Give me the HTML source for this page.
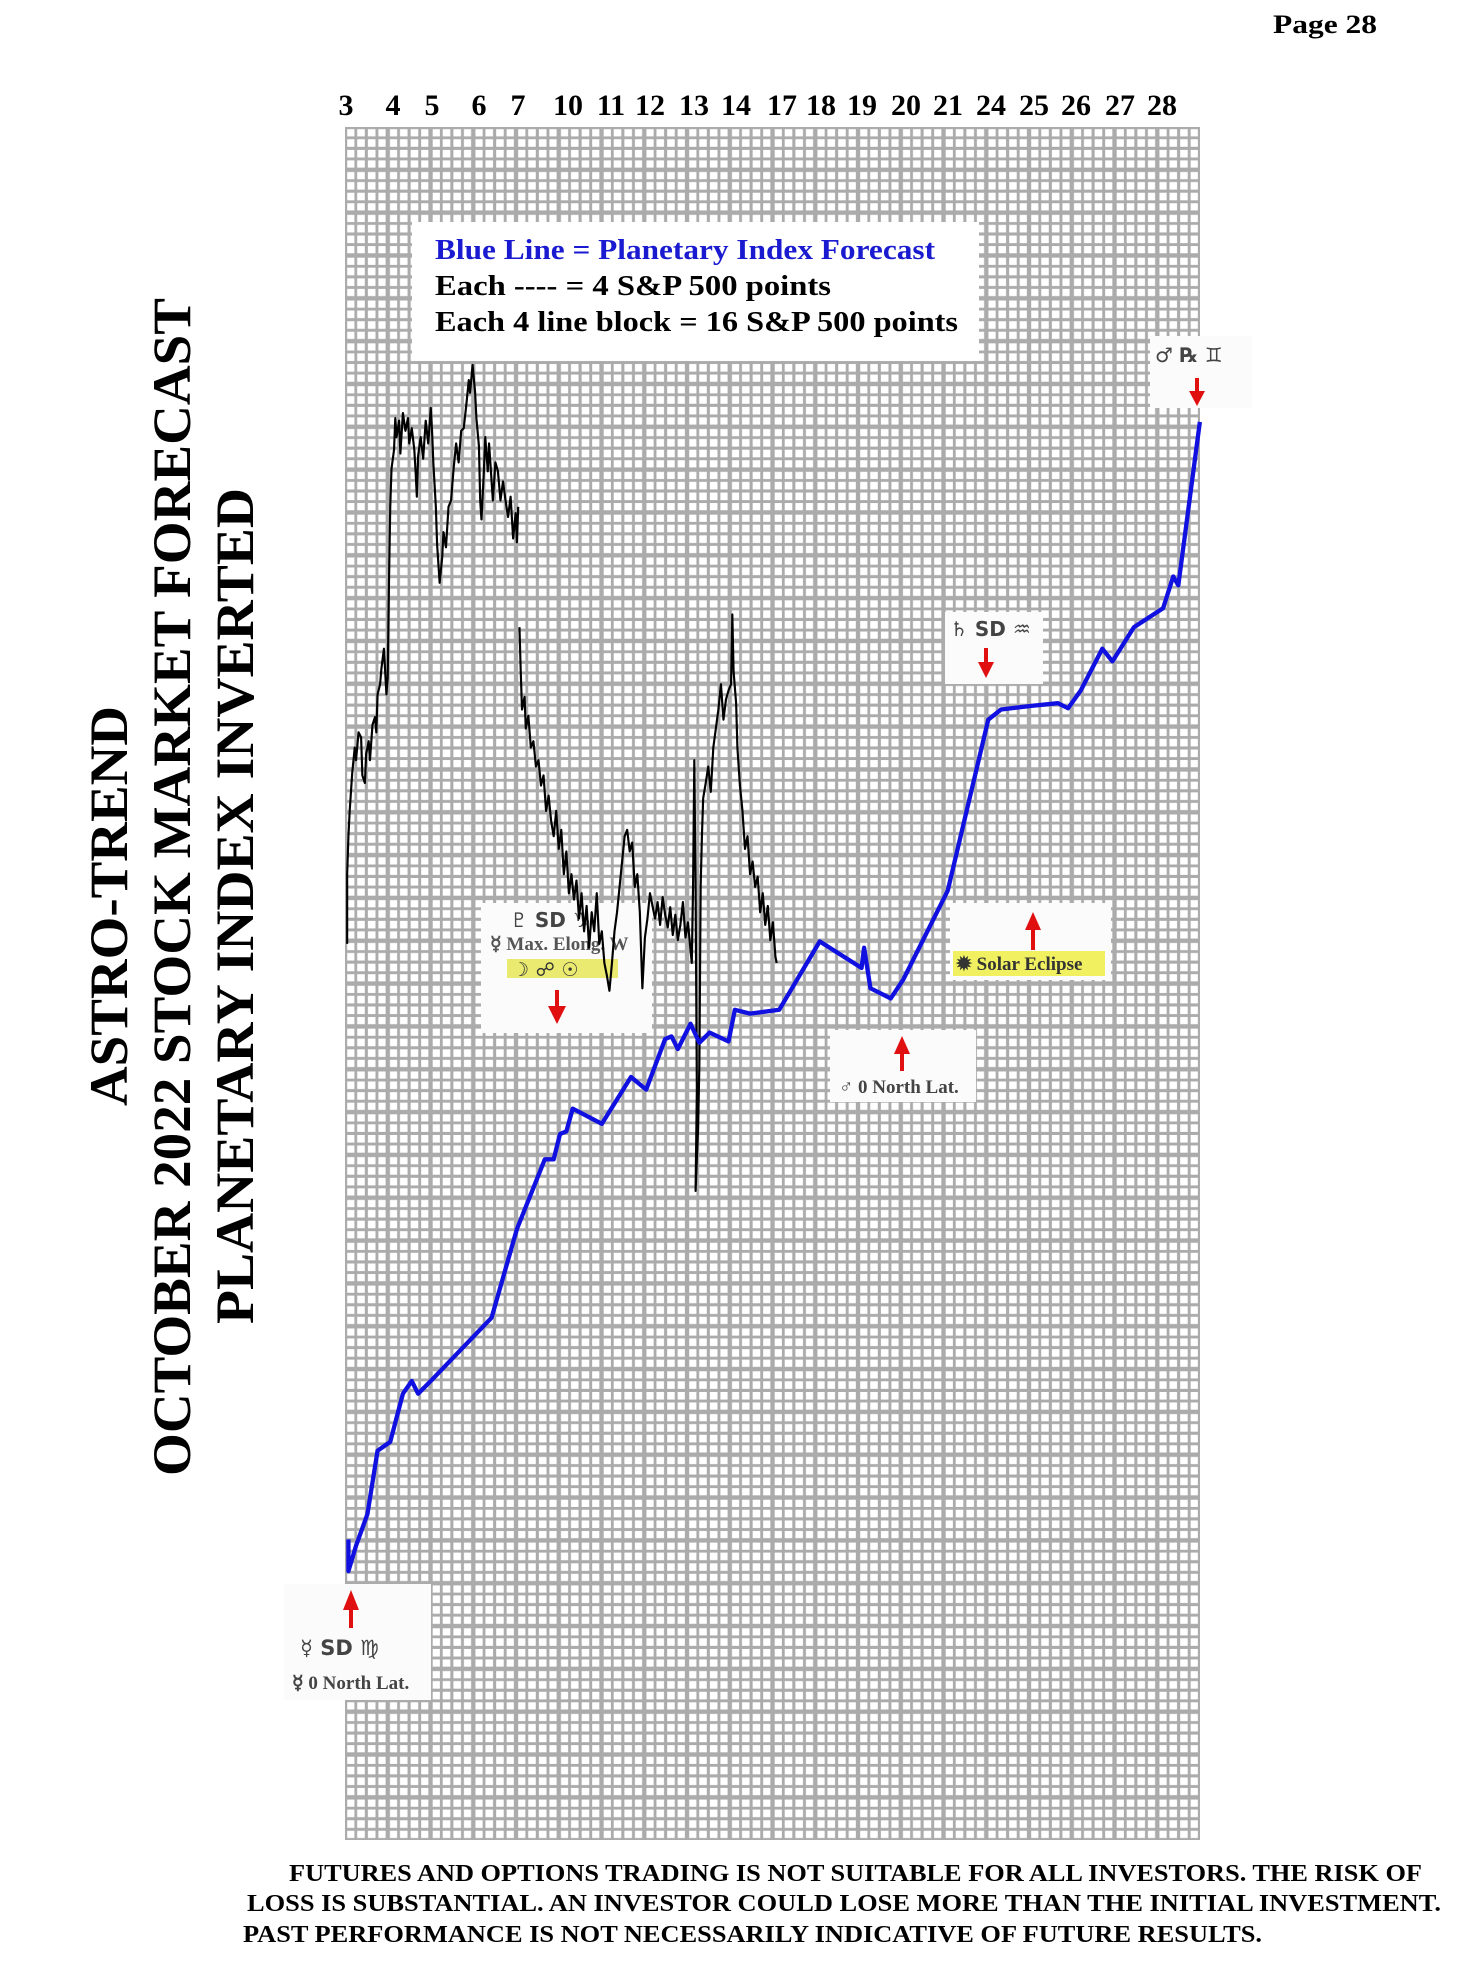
<!DOCTYPE html>
<html><head><meta charset="utf-8">
<style>
html,body{margin:0;padding:0;background:#fff;}
svg{display:block;}
.t{font-family:"Liberation Serif",serif;font-weight:bold;}
.s{font-family:"DejaVu Sans",sans-serif;font-weight:bold;}
</style></head>
<body>
<svg width="1470" height="1978" viewBox="0 0 1470 1978" xmlns="http://www.w3.org/2000/svg">
<defs>
<pattern id="g" x="345" y="127" width="42.75" height="42.83" patternUnits="userSpaceOnUse">
<rect width="42.75" height="42.83" fill="#ababab"/>
<g fill="#fff">
<rect x="2.2" y="2.2" width="7.2" height="7.2"/><rect x="12.2" y="2.2" width="7.6" height="7.2"/><rect x="22.9" y="2.2" width="7.6" height="7.2"/><rect x="33.4" y="2.2" width="7.2" height="7.2"/>
<rect x="2.2" y="12.2" width="7.2" height="7.6"/><rect x="12.2" y="12.2" width="7.6" height="7.6"/><rect x="22.9" y="12.2" width="7.6" height="7.6"/><rect x="33.4" y="12.2" width="7.2" height="7.6"/>
<rect x="2.2" y="22.9" width="7.2" height="7.6"/><rect x="12.2" y="22.9" width="7.6" height="7.6"/><rect x="22.9" y="22.9" width="7.6" height="7.6"/><rect x="33.4" y="22.9" width="7.2" height="7.6"/>
<rect x="2.2" y="33.4" width="7.2" height="7.2"/><rect x="12.2" y="33.4" width="7.6" height="7.2"/><rect x="22.9" y="33.4" width="7.6" height="7.2"/><rect x="33.4" y="33.4" width="7.2" height="7.2"/>
</g>
</pattern>
</defs>

<text class="t" x="1273" y="33" font-size="26" textLength="104" lengthAdjust="spacingAndGlyphs">Page  28</text>

<g class="t" font-size="30" text-anchor="middle">
<text x="346" y="115">3</text><text x="393" y="115">4</text><text x="432" y="115">5</text><text x="479" y="115">6</text><text x="518" y="115">7</text>
<text x="568" y="115">10</text><text x="611" y="115">11</text><text x="650" y="115">12</text><text x="694" y="115">13</text><text x="736" y="115">14</text>
<text x="782" y="115">17</text><text x="821" y="115">18</text><text x="862" y="115">19</text><text x="906" y="115">20</text><text x="948" y="115">21</text>
<text x="991" y="115">24</text><text x="1034" y="115">25</text><text x="1076" y="115">26</text><text x="1120" y="115">27</text><text x="1162" y="115">28</text>
</g>

<rect x="345" y="127" width="855" height="1713" fill="url(#g)"/>

<g class="t" font-size="54">
<text transform="translate(127,906) rotate(-90)" text-anchor="middle" textLength="400" lengthAdjust="spacingAndGlyphs">ASTRO-TREND</text>
<text transform="translate(190,887) rotate(-90)" text-anchor="middle" textLength="1178" lengthAdjust="spacingAndGlyphs">OCTOBER 2022 STOCK MARKET FORECAST</text>
<text transform="translate(253,906) rotate(-90)" text-anchor="middle" textLength="836" lengthAdjust="spacingAndGlyphs">PLANETARY INDEX INVERTED</text>
</g>

<rect x="412" y="222" width="567" height="139" fill="#fff"/>
<g class="t" font-size="28">
<text x="435" y="259" fill="#1a1ad0" textLength="500" lengthAdjust="spacingAndGlyphs">Blue Line = Planetary Index Forecast</text>
<text x="435" y="295" textLength="396" lengthAdjust="spacingAndGlyphs">Each ---- =   4 S&amp;P 500 points</text>
<text x="435" y="331" textLength="523" lengthAdjust="spacingAndGlyphs">Each 4 line block =  16  S&amp;P 500 points</text>
</g>

<rect x="1150" y="336" width="102" height="72" fill="#fbfbfb"/>
<text class="s" x="1155" y="362" font-size="20" fill="#444">♂ ℞ ♊</text>
<path d="M1197 378 V393" stroke="#e01010" stroke-width="4"/><path d="M1189 391 L1205 391 L1197 406 Z" fill="#e01010"/>

<rect x="945" y="612" width="98" height="72" fill="#fbfbfb"/>
<text class="s" x="950" y="636" font-size="20" fill="#444">♄ SD ♒</text>
<path d="M986 648 V664" stroke="#e01010" stroke-width="4"/><path d="M978 662 L994 662 L986 678 Z" fill="#e01010"/>

<rect x="481" y="903" width="171" height="130" fill="#fbfbfb"/>
<text class="s" x="510" y="927" font-size="20" fill="#444">♇  SD ♑</text>
<text class="t" x="490" y="950" font-size="19" fill="#555">☿ Max. Elong. W</text>
<rect x="507" y="959" width="111" height="19" fill="#eaea70"/>
<text class="s" x="512" y="976" font-size="19" fill="#333">☽  ☍  ☉</text>
<path d="M557 990 V1008" stroke="#e01010" stroke-width="4"/><path d="M548 1006 L566 1006 L557 1024 Z" fill="#e01010"/>

<rect x="950" y="903" width="161" height="77" fill="#fbfbfb"/>
<path d="M1033 950 V928" stroke="#e01010" stroke-width="4"/><path d="M1025 930 L1041 930 L1033 912 Z" fill="#e01010"/>
<rect x="953" y="951" width="152" height="25" fill="#f0f060"/>
<text class="t" x="956" y="970" font-size="19" fill="#333">✹ Solar Eclipse</text>

<rect x="830" y="1030" width="146" height="72" fill="#fbfbfb"/>
<path d="M902 1071 V1052" stroke="#e01010" stroke-width="4"/><path d="M894 1054 L910 1054 L902 1036 Z" fill="#e01010"/>
<text class="t" x="839" y="1093" font-size="19" fill="#444">♂ 0 North Lat.</text>

<rect x="284" y="1584" width="147" height="116" fill="#fbfbfb"/>
<path d="M351 1628 V1608" stroke="#e01010" stroke-width="4"/><path d="M343 1610 L359 1610 L351 1590 Z" fill="#e01010"/>
<text class="s" x="300" y="1655" font-size="21" fill="#444">☿  SD  ♍</text>
<text class="t" x="292" y="1689" font-size="19" fill="#444">☿ 0 North Lat.</text>

<g transform="scale(1.267)" fill="none" stroke-linejoin="round">
<polyline stroke="#000" stroke-width="1.7" points="274,745 274,690 275,660 276,640 278,610 280,590 281,600 283,578 285,582 286,612 288,618 289,595 291,585 292,600 294,572 296,566 297,578 298,548 300,540 301,528 302,520 303,512 304,530 305,548 306,535 307,460 308,400 309,370 311,355 312,330 313,345 315,332 316,358 318,326 320,340 322,330 323,350 325,338 327,355 328,372 329,392 330,360 332,345 334,362 336,332 338,350 340,322 341,340 342,365 344,400 345,430 347,460 349,440 350,420 352,432 354,400 356,395 358,370 360,350 362,365 364,340 366,338 368,320 370,300 371,310 373,288 375,310 376,330 378,352 379,395 380,410 382,370 383,345 385,372 386,350 388,380 389,395 391,365 393,372 395,395 397,380 399,395 401,408 403,392 405,425 407,405 408,428 409,400"/>
<polyline stroke="#000" stroke-width="1.7" points="410,495 411,530 412,560 414,550 415,575 417,565 419,590 421,585 423,605 425,600 427,620 429,612 431,640 433,628 435,648 437,660 439,640 441,670 443,655 445,690 447,672 449,705 451,690 453,710 455,695 457,725 459,705 461,735 463,715 465,748 467,720 469,735 471,705 473,745 475,735 477,760 479,770 481,782 483,760 485,735 487,720 489,700 491,680 493,660 495,655 497,672 499,665 501,700 503,690 505,720 507,780 509,740 511,725 513,705 515,715 517,725 519,712 521,730 523,708 525,722 527,732 529,716 531,738 533,722 535,742 537,730 539,712 541,740 543,728 545,750 546,760 547,700 548,600 549,700 550,860 549,940 551,890 552,840 553,700 554,660 555,630 557,618 559,605 561,625 563,590 565,575 567,560 569,540 571,568 573,552 575,545 577,540 578,485 579,530 581,555 582,590 584,620 586,640 588,670 590,660 592,690 594,680 596,700 598,692 600,720 602,705 604,730 606,715 608,742 610,728 612,755 613,760"/>
<polyline stroke="#1010e0" stroke-width="3.4" points="275,1215 275,1240 281,1220 290,1195 298,1145 308,1138 318,1100 325,1090 330,1100 340,1090 388,1040 408,970 430,915 437,915 442,895 447,893 452,875 475,887 498,850 510,860 525,820 530,818 535,828 545,808 552,823 560,815 575,822 580,797 592,800 615,797 647,743 680,764 682,748 687,780 703,788 713,773 748,703 780,568 790,560 815,557 835,555 843,559 853,545 870,512 878,522 895,495 918,480 926,455 930,462 947,333"/>
</g>

<g class="t" font-size="24">
<text x="289" y="1881" textLength="1133" lengthAdjust="spacingAndGlyphs">FUTURES AND OPTIONS TRADING IS NOT SUITABLE FOR ALL INVESTORS.  THE RISK OF</text>
<text x="247" y="1911" textLength="1194" lengthAdjust="spacingAndGlyphs">LOSS IS SUBSTANTIAL.  AN INVESTOR COULD LOSE MORE THAN THE INITIAL INVESTMENT.</text>
<text x="243" y="1942" textLength="1019" lengthAdjust="spacingAndGlyphs">PAST PERFORMANCE IS NOT NECESSARILY INDICATIVE OF FUTURE RESULTS.</text>
</g>
</svg>
</body></html>
